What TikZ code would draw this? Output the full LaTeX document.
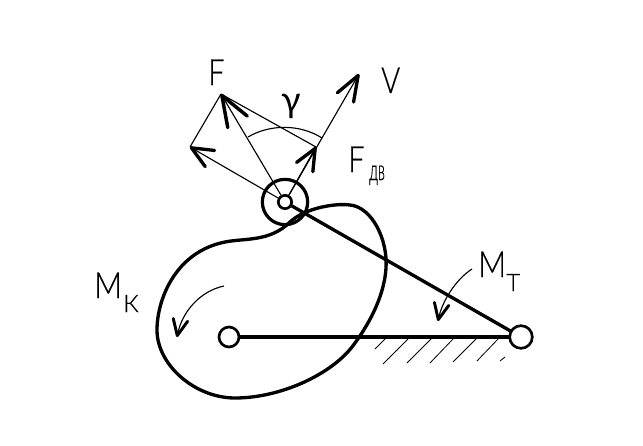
\documentclass[tikz,border=0pt]{standalone}
\usepackage{fontspec}
\setmainfont{Lato Light}[FakeBold=0.4]
\newfontfamily\gamfont{Lato}
\usetikzlibrary{arrows.meta}
\tikzset{
  x=0.75pt,y=-0.75pt,
  heavy/.style={line width=2.5pt,line cap=round,line join=round},
  thin line/.style={line width=0.85pt},
  barbF/.style={-{Straight Barb[line width=2.6pt,length=23pt,width=17pt,round]}},
  barbV/.style={-{Straight Barb[line width=2.5pt,length=19pt,width=14pt,round]}},
  barbD/.style={-{Straight Barb[line width=2.5pt,length=16pt,width=14pt,round]}},
  smallbarb/.style={-{Straight Barb[line width=2.2pt,length=12pt,width=11pt,round]}},
  pin/.style={circle,draw,line width=2pt,fill=white,inner sep=0pt},
  lab/.style={inner sep=0pt,font=\fontsize{27}{27}\selectfont},
  sublab/.style={inner sep=0pt,font=\fontsize{18}{18}\selectfont},
  hatch/.style={line width=0.6pt},
}
\begin{document}
\begin{tikzpicture}
\useasboundingbox (0,0) rectangle (643,446);
% tips
\coordinate (tipF) at (221,94);
\coordinate (tipL) at (190,147);
\coordinate (tipV) at (359,74);
\coordinate (tipD) at (316,147);
\coordinate (arcA) at (248,137);
\coordinate (arcB) at (322,138);
\coordinate (mkS) at (224,286);
\coordinate (mkE) at (177,337);
\coordinate (mtS) at (472,269);
\coordinate (mtE) at (438,321);
% cam
\draw[heavy] (290,222) .. controls (305,208) and (335,203) .. (350,205)
  .. controls (372,207) and (388,240) .. (386,268)
  .. controls (384,300) and (365,330) .. (352,347)
  .. controls (330,375) and (280,398) .. (235,398)
  .. controls (195,398) and (157,365) .. (157,330)
  .. controls (157,300) and (175,252) .. (225,242)
  .. controls (245,238) and (270,242) .. (290,222) -- cycle;
% pins
\node[pin,minimum size=34pt,fill=none,line width=2.4pt] (roller) at (285,202) {};
\node[pin,minimum size=10pt] (axis) at (285,202) {};
\node[pin,minimum size=15pt] (cam) at (229,337) {};
\node[pin,minimum size=17pt] (pivot) at (521,337) {};
\draw[heavy] (axis) -- (pivot);
\draw[heavy] (cam) -- (pivot);
% force vectors
\draw[thin line,barbF] (axis) -- (tipF);
\draw[thin line,barbD] (axis) -- (tipL);
\draw[thin line,barbV] (axis) -- (tipV);
\draw[thin line,barbD] (axis) -- (tipD);
\draw[thin line] (tipF) -- (tipL);
\draw[thin line] (tipF) -- (tipD);
\draw[thin line] (arcA) .. controls (270,124) and (300,124) .. (arcB);
% moments
\draw[thin line,smallbarb] (mkS) .. controls (200,291) and (182,312) .. (mkE);
\draw[thin line,smallbarb] (mtS) .. controls (455,280) and (442,302) .. (mtE);
% hatching
\foreach \a/\b/\c/\d in {375/349/386/338,383/364/409/338,407/363/432/338,430/363/454/338,453/362/477/338,477/361/499/338,500/361/505/357}
  \draw[hatch] (\a,\b) -- (\c,\d);
% labels
\node[lab,anchor=base west] (lF) at (208,85) {\scalebox{.8}[1]{F}};
\node[lab,anchor=base west] (lV) at (381,93) {\scalebox{.8}[1]{V}};
\node[lab,anchor=base west] (lD) at (348,172) {\scalebox{.8}[1]{F}};
\node[sublab,anchor=base west] (lDs) at (369,180) {\scalebox{.6}[1.2]{дв}};
\node[lab,anchor=base] (lg) at (291,112) {\gamfont γ};
\node[lab,anchor=base west] (lM1) at (94,298) {\scalebox{.85}[1]{M}};
\node[sublab,anchor=base west] (lM1s) at (123,312) {К};
\node[lab,anchor=base west] (lM2) at (478,277) {\scalebox{.85}[1]{M}};
\node[sublab,anchor=base west] (lM2s) at (506,291) {Т};
\end{tikzpicture}
\end{document}
